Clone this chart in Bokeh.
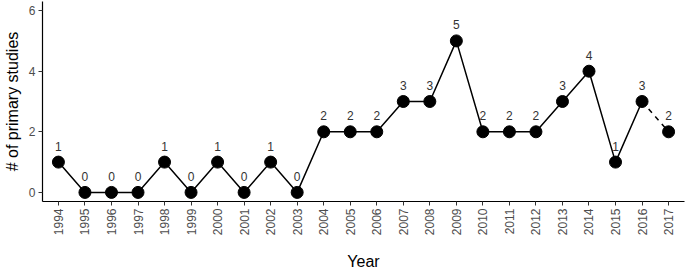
import math
from bokeh.plotting import figure
from bokeh.models import Range1d, FixedTicker
from bokeh.core.properties import value
from bokeh.embed import file_html
from bokeh.resources import INLINE

years = list(range(1994, 2018))
studies = [1, 0, 0, 0, 1, 0, 1, 0, 1, 0, 2, 2, 2, 3, 3, 5, 2, 2, 2, 3, 4, 1, 3, 2]
y_ticks = [0, 2, 4, 6]

FONT = "Liberation Sans"

p = figure(width=685, height=273, output_backend="svg", toolbar_location=None,
           x_range=Range1d(1993.4, 2017.6), y_range=Range1d(-0.3, 6.3),
           min_border_left=41, min_border_right=1, min_border_top=1, min_border_bottom=71)
p.outline_line_color = None
p.xgrid.visible = False
p.ygrid.visible = False
p.background_fill_color = "white"
p.border_fill_color = "white"

# solid line through 2016, dashed for last segment
p.line(years[:-1], studies[:-1], line_color="black", line_width=1.5)
p.line(years[-2:], studies[-2:], line_color="black", line_width=1.5, line_dash="5 5")
p.scatter(years, studies, size=12, fill_color="black", line_color="black")
p.text(years, studies, text=[str(v) for v in studies], text_align="center",
       text_baseline="middle", y_offset=-16, text_font=value(FONT),
       text_font_size="12px", text_color="#333333")

for ax in (p.xaxis[0], p.yaxis[0]):
    ax.axis_line_color = "black"
    ax.axis_line_width = 1.2
    ax.major_tick_line_color = "#333333"
    ax.major_tick_in = 0
    ax.major_tick_out = 4
    ax.minor_tick_line_color = None
    ax.major_label_text_font = FONT
    ax.major_label_text_font_size = "12px"
    ax.major_label_text_color = "#4D4D4D"
    ax.axis_label_text_font = FONT
    ax.axis_label_text_font_size = "16px"
    ax.axis_label_text_font_style = "normal"
    ax.axis_label_text_color = "black"

p.xaxis.ticker = FixedTicker(ticks=years)
p.xaxis.major_label_orientation = math.pi / 2
p.xaxis.major_label_standoff = 3
p.xaxis.axis_label = "Year"
p.xaxis.axis_label_standoff = 15
p.yaxis.ticker = FixedTicker(ticks=y_ticks)
p.yaxis.major_label_standoff = 3
p.yaxis.axis_label = "# of primary studies"
p.yaxis.axis_label_standoff = 5

open("out.html", "w").write(file_html(p, INLINE))
